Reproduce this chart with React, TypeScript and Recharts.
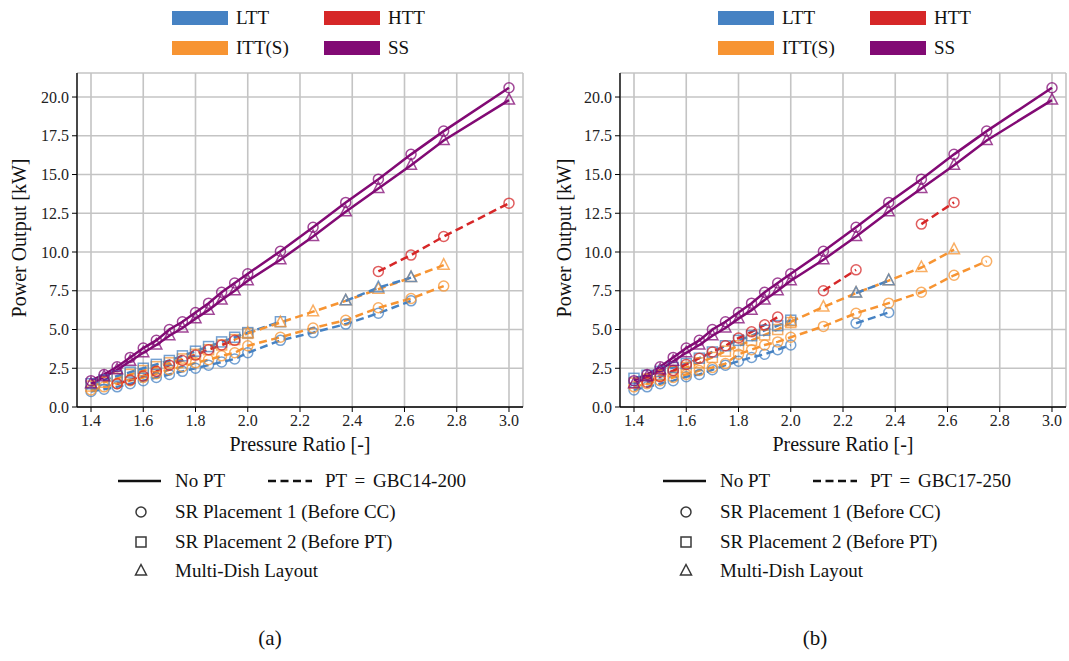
import React from 'react';
import { LineChart, Line, XAxis, YAxis, CartesianGrid } from 'recharts';

// pressure ratio sample points (shared by every series)
const PR = [1.4, 1.45, 1.5, 1.55, 1.6, 1.65, 1.7, 1.75, 1.8, 1.85, 1.9, 1.95, 2.0, 2.125, 2.25, 2.375, 2.5, 2.625, 2.75, 3.0];

const X_TICKS = [1.4, 1.6, 1.8, 2.0, 2.2, 2.4, 2.6, 2.8, 3.0];
const X_MINOR = [1.35, 1.4, 1.45, 1.5, 1.55, 1.6, 1.65, 1.7, 1.75, 1.8, 1.85, 1.9, 1.95, 2.0, 2.05, 2.1, 2.15, 2.2, 2.25, 2.3, 2.35, 2.4, 2.45, 2.5, 2.55, 2.6, 2.65, 2.7, 2.75, 2.8, 2.85, 2.9, 2.95, 3.0, 3.05];
const Y_TICKS = [0, 2.5, 5, 7.5, 10, 12.5, 15, 17.5, 20];
const Y_MINOR = [0, 0.5, 1, 1.5, 2, 2.5, 3, 3.5, 4, 4.5, 5, 5.5, 6, 6.5, 7, 7.5, 8, 8.5, 9, 9.5, 10, 10.5, 11, 11.5, 12, 12.5, 13, 13.5, 14, 14.5, 15, 15.5, 16, 16.5, 17, 17.5, 18, 18.5, 19, 19.5, 20, 20.5, 21, 21.5];

// No PT (same in both panels)
const ssCircle = [1.7, 2.1, 2.6, 3.2, 3.8, 4.3, 5.0, 5.5, 6.1, 6.7, 7.4, 8.0, 8.6, 10.05, 11.6, 13.2, 14.7, 16.3, 17.8, 20.6];
const ssTriangle = [1.5, 1.95, 2.4, 2.95, 3.5, 4.0, 4.6, 5.1, 5.7, 6.25, 6.9, 7.5, 8.15, 9.5, 11.0, 12.6, 14.1, 15.6, 17.2, 19.8];

// panel (a), PT = GBC14-200
const aLttCircle = [1.0, 1.15, 1.3, 1.5, 1.7, 1.9, 2.1, 2.3, 2.5, 2.7, 2.9, 3.1, 3.5, 4.3, 4.8, 5.35, 6.05, 6.85, null, null];
const aIttCircle = [1.1, 1.3, 1.5, 1.7, 1.9, 2.15, 2.4, 2.6, 2.85, 3.05, 3.3, 3.5, 3.95, 4.5, 5.1, 5.6, 6.4, 7.0, 7.8, null];
const aIttSquare = [1.35, 1.6, 1.85, 2.1, 2.35, 2.6, 2.85, 3.1, 3.4, 3.7, 4.0, 4.35, 4.75, null, null, null, null, null, null, null];
const aLttSquare = [1.5, 1.75, 2.0, 2.25, 2.5, 2.75, 3.0, 3.3, 3.6, 3.9, 4.2, 4.5, 4.8, 5.5, null, null, null, null, null, null];
const aIttTriangle = [null, null, null, null, null, null, null, null, null, null, null, null, 4.75, 5.45, 6.15, 6.85, 7.6, 8.35, 9.15, null];
const aLttTriangle = [null, null, null, null, null, null, null, null, null, null, null, null, null, null, null, 6.85, 7.7, 8.35, null, null];
const aHttCircle = [null, null, 1.5, 1.75, 2.0, 2.3, 2.7, 3.0, 3.35, 3.7, 4.0, 4.3, null, null, null, null, 8.75, 9.8, 11.0, 13.15];

// panel (b), PT = GBC17-250
const bLttCircle = [1.1, 1.3, 1.5, 1.7, 1.95, 2.1, 2.4, 2.7, 2.95, 3.2, 3.4, 3.7, 4.0, null, 5.4, 6.1, null, null, null, null];
const bIttCircle = [1.3, 1.5, 1.7, 1.9, 2.1, 2.35, 2.55, 2.8, 3.4, 3.7, 4.0, 4.2, 4.5, 5.2, 6.05, 6.7, 7.4, 8.5, 9.4, null];
const bIttSquare = [1.55, 1.8, 2.05, 2.3, 2.55, 2.85, 3.2, 3.6, 3.95, 4.3, 4.65, 5.0, 5.45, null, null, null, null, null, null, null];
const bLttSquare = [1.85, 2.05, 2.3, 2.55, 2.8, 3.15, 3.55, 3.95, 4.3, 4.6, 4.95, 5.25, 5.6, null, null, null, null, null, null, null];
const bIttTriangle = [null, null, null, null, null, null, null, null, null, null, null, null, 5.5, 6.45, 7.35, 8.15, 9.0, 10.15, null, null];
const bLttTriangle = [null, null, null, null, null, null, null, null, null, null, null, null, null, null, 7.35, 8.15, null, null, null, null];
const bHttCircle = [null, 1.6, 1.95, 2.35, 2.75, 3.15, 3.55, 3.95, 4.45, 4.85, 5.3, 5.8, null, 7.5, 8.85, null, 11.8, 13.2, null, null];

const LTT = '#4682c3';
const HTT = '#d62728';
const ITT = '#f79432';
const SS = '#820a74';
const FONT = '"Liberation Serif", "DejaVu Serif", serif';

type Shape = 'circle' | 'square' | 'triangle';
type Series = { key: string; values: (number | null)[]; color: string; shape: Shape; dashed: boolean };

const seriesA: Series[] = [
  { key: 'lttCircle', values: aLttCircle, color: LTT, shape: 'circle', dashed: true },
  { key: 'ittCircle', values: aIttCircle, color: ITT, shape: 'circle', dashed: true },
  { key: 'ittSquare', values: aIttSquare, color: ITT, shape: 'square', dashed: true },
  { key: 'lttSquare', values: aLttSquare, color: LTT, shape: 'square', dashed: true },
  { key: 'ittTriangle', values: aIttTriangle, color: ITT, shape: 'triangle', dashed: true },
  { key: 'lttTriangle', values: aLttTriangle, color: LTT, shape: 'triangle', dashed: true },
  { key: 'httCircle', values: aHttCircle, color: HTT, shape: 'circle', dashed: true },
  { key: 'ssTriangle', values: ssTriangle, color: SS, shape: 'triangle', dashed: false },
  { key: 'ssCircle', values: ssCircle, color: SS, shape: 'circle', dashed: false },
];

const seriesB: Series[] = [
  { key: 'lttCircle', values: bLttCircle, color: LTT, shape: 'circle', dashed: true },
  { key: 'ittCircle', values: bIttCircle, color: ITT, shape: 'circle', dashed: true },
  { key: 'ittSquare', values: bIttSquare, color: ITT, shape: 'square', dashed: true },
  { key: 'lttSquare', values: bLttSquare, color: LTT, shape: 'square', dashed: true },
  { key: 'ittTriangle', values: bIttTriangle, color: ITT, shape: 'triangle', dashed: true },
  { key: 'lttTriangle', values: bLttTriangle, color: LTT, shape: 'triangle', dashed: true },
  { key: 'httCircle', values: bHttCircle, color: HTT, shape: 'circle', dashed: true },
  { key: 'ssTriangle', values: ssTriangle, color: SS, shape: 'triangle', dashed: false },
  { key: 'ssCircle', values: ssCircle, color: SS, shape: 'circle', dashed: false },
];

const buildRows = (series: Series[]) =>
  PR.map((pr, i) => {
    const row: Record<string, number | null> = { pr };
    series.forEach(s => { row[s.key] = s.values[i]; });
    return row;
  });

const Marker = ({ shape, cx, cy, color, opacity = 0.75 }: { shape: Shape; cx: number; cy: number; color: string; opacity?: number }) => {
  const common = { fill: 'none', stroke: color, strokeWidth: 1.5, strokeOpacity: opacity };
  if (shape === 'circle') return <circle cx={cx} cy={cy} r={5} {...common} />;
  if (shape === 'square') return <rect x={cx - 5} y={cy - 5} width={10} height={10} {...common} />;
  return <polygon points={`${cx},${cy - 6.5} ${cx - 5.5},${cy + 4} ${cx + 5.5},${cy + 4}`} {...common} />;
};

const dotFor = (shape: Shape, color: string) => (props: any) => {
  const { cx, cy, index } = props;
  if (typeof cx !== 'number' || typeof cy !== 'number' || Number.isNaN(cy) || props.value == null) {
    return <g key={`d${index}`} />;
  }
  return <Marker key={`d${index}`} shape={shape} cx={cx} cy={cy} color={color} />;
};

const X_DOMAIN: [number, number] = [1.3464, 3.0536];
const Y_DOMAIN: [number, number] = [0, 21.55];
const tickStyle = { fill: '#222', fontSize: 16, fontFamily: FONT };

const Panel = ({ series, left }: { series: Series[]; left: number }) => {
  const rows = buildRows(series);
  return (
    <div style={{ position: 'absolute', left, top: 0 }}>
      <LineChart width={540} height={460} data={rows} margin={{ top: 73, right: 17, bottom: 23, left: 17 }}>
        <CartesianGrid stroke="#c4c4c4" strokeWidth={1.6} />
        <XAxis xAxisId="minor" dataKey="pr" type="number" domain={X_DOMAIN} allowDataOverflow ticks={X_MINOR}
          height={0} tick={false} tickSize={3} axisLine={false} tickLine={{ stroke: '#000' }} />
        <XAxis dataKey="pr" type="number" domain={X_DOMAIN} allowDataOverflow ticks={X_TICKS} height={30}
          tickSize={5} tickMargin={3} tick={tickStyle} tickFormatter={(v: number) => v.toFixed(1)}
          axisLine={{ stroke: '#000', strokeWidth: 1.3 }} tickLine={{ stroke: '#000' }} />
        <XAxis xAxisId="top" orientation="top" dataKey="pr" type="number" domain={X_DOMAIN} allowDataOverflow
          height={0} tick={false} tickLine={false} axisLine={{ stroke: '#000', strokeWidth: 1.3 }} />
        <YAxis yAxisId="minor" type="number" domain={Y_DOMAIN} allowDataOverflow ticks={Y_MINOR} width={0}
          tick={false} tickSize={3} axisLine={false} tickLine={{ stroke: '#000' }} />
        <YAxis type="number" domain={Y_DOMAIN} allowDataOverflow ticks={Y_TICKS} width={60}
          tickSize={5} tickMargin={3} tick={tickStyle} tickFormatter={(v: number) => v.toFixed(1)}
          axisLine={{ stroke: '#000', strokeWidth: 1.3 }} tickLine={{ stroke: '#000' }} />
        <YAxis yAxisId="right" orientation="right" type="number" domain={Y_DOMAIN} allowDataOverflow width={0}
          tick={false} tickLine={false} axisLine={{ stroke: '#000', strokeWidth: 1.3 }} />
        {series.map(s => (
          <Line key={s.key} type="linear" dataKey={s.key} stroke={s.color} strokeWidth={2.5}
            strokeDasharray={s.dashed ? '8 4.5' : undefined} dot={dotFor(s.shape, s.color)} activeDot={false}
            isAnimationActive={false} connectNulls={false} />
        ))}
      </LineChart>
    </div>
  );
};

const TopLegend = ({ x0 }: { x0: number }) => {
  const items = [
    { label: 'LTT', color: LTT, dx: 0, y: 11 },
    { label: 'HTT', color: HTT, dx: 152, y: 11 },
    { label: 'ITT(S)', color: ITT, dx: 0, y: 41 },
    { label: 'SS', color: SS, dx: 152, y: 41 },
  ];
  return (
    <g>
      {items.map(it => (
        <g key={it.label}>
          <rect x={x0 + it.dx} y={it.y} width={56} height={14} fill={it.color} />
          <text x={x0 + it.dx + 64} y={it.y + 13} fontSize={19} fontFamily={FONT} fill="#111">{it.label}</text>
        </g>
      ))}
    </g>
  );
};

const BottomLegend = ({ x0, pt }: { x0: number; pt: string }) => {
  const rows: { shape: Shape; label: string; y: number }[] = [
    { shape: 'circle', label: 'SR Placement 1 (Before CC)', y: 512 },
    { shape: 'square', label: 'SR Placement 2 (Before PT)', y: 542 },
    { shape: 'triangle', label: 'Multi-Dish Layout', y: 571 },
  ];
  return (
    <g fontFamily={FONT} fontSize={19} fill="#111">
      <line x1={x0} x2={x0 + 43} y1={481} y2={481} stroke="#111" strokeWidth={2.5} />
      <text x={x0 + 57} y={487}>No PT</text>
      <line x1={x0 + 150} x2={x0 + 194} y1={481} y2={481} stroke="#111" strokeWidth={2.5} strokeDasharray="8 4.5" />
      <text x={x0 + 207} y={487} style={{ wordSpacing: 3 }}>{pt}</text>
      {rows.map(r => (
        <g key={r.label}>
          <Marker shape={r.shape} cx={x0 + 23} cy={r.y} color="#222" opacity={0.9} />
          <text x={x0 + 57} y={r.y + 6}>{r.label}</text>
        </g>
      ))}
    </g>
  );
};

export default function App() {
  return (
    <div style={{ position: 'absolute', left: 0, top: 0, width: 1069, height: 661, background: '#fff', overflow: 'hidden' }}>
      <Panel series={seriesA} left={0} />
      <Panel series={seriesB} left={543} />
      <svg width={1069} height={661} style={{ position: 'absolute', left: 0, top: 0, pointerEvents: 'none' }}>
        <TopLegend x0={172} />
        <TopLegend x0={718} />
        <text x={21} y={238} transform="rotate(-90 21 238)" textAnchor="middle" dominantBaseline="middle"
          fontSize={20} fontFamily={FONT} fill="#111">Power Output [kW]</text>
        <text x={566} y={238} transform="rotate(-90 566 238)" textAnchor="middle" dominantBaseline="middle"
          fontSize={20} fontFamily={FONT} fill="#111">Power Output [kW]</text>
        <text x={300} y={451} textAnchor="middle" fontSize={20} fontFamily={FONT} fill="#111">Pressure Ratio [-]</text>
        <text x={843} y={451} textAnchor="middle" fontSize={20} fontFamily={FONT} fill="#111">Pressure Ratio [-]</text>
        <BottomLegend x0={118} pt="PT = GBC14-200" />
        <BottomLegend x0={663} pt="PT = GBC17-250" />
        <text x={270} y={645} textAnchor="middle" fontSize={21} fontFamily={FONT} fill="#111">(a)</text>
        <text x={815} y={645} textAnchor="middle" fontSize={21} fontFamily={FONT} fill="#111">(b)</text>
      </svg>
    </div>
  );
}
